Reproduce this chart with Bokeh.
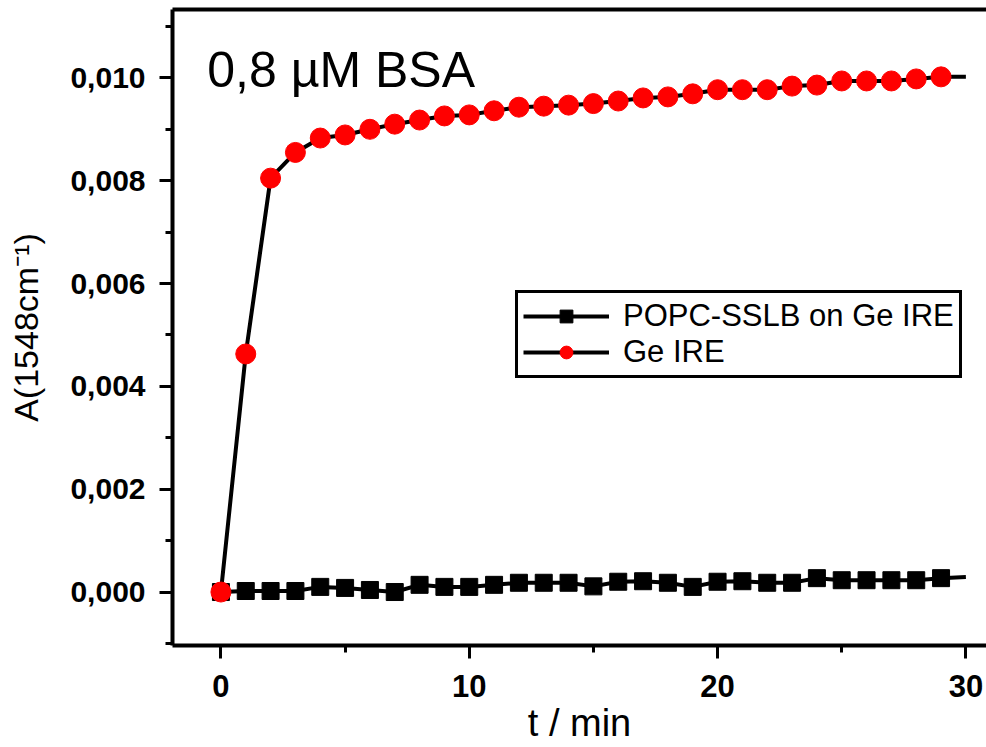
from bokeh.plotting import figure
from bokeh.models import (Range1d, SingleIntervalTicker, CustomJSTickFormatter, LinearAxis,
                          FixedTicker, Legend, LegendItem, Label)
from bokeh.embed import file_html
from bokeh.resources import INLINE

# ---- data ----
t_min = list(range(0, 31))
ge_ire = [0.0, 0.00463, 0.00805, 0.00855, 0.00883, 0.00889, 0.00900, 0.00910, 0.00918, 0.00926,
          0.00928, 0.00936, 0.00943, 0.00945, 0.00947, 0.00950, 0.00955, 0.00961, 0.00963, 0.00969,
          0.00977, 0.00977, 0.00977, 0.00984, 0.00986, 0.00994, 0.00994, 0.00994, 0.00998, 0.01002,
          0.01002]
popc_sslb = [0.0, 0.00002, 0.00002, 0.00002, 0.00010, 0.00008, 0.00004, 0.00000, 0.00014, 0.00010,
             0.00010, 0.00014, 0.00018, 0.00018, 0.00018, 0.00011, 0.00020, 0.00021, 0.00018, 0.00010,
             0.00020, 0.00021, 0.00018, 0.00018, 0.00027, 0.00023, 0.00023, 0.00023, 0.00023, 0.00027,
             0.00029]
n_markers = 30  # markers drawn for t = 0..29, line runs to t = 30
series_labels = ["POPC-SSLB on Ge IRE", "Ge IRE"]
title_text = "0,8 µM BSA"
x_label = "t / min"
y_label = "A(1548cm\u207b\u00b9)"

FONT = "Liberation Sans"

p = figure(width=986, height=747, output_backend="svg", toolbar_location=None,
           x_range=Range1d(-1.95, 30.83), y_range=Range1d(-0.00104, 0.01133),
           min_border_left=172, min_border_right=0, min_border_top=9, min_border_bottom=102)
p.outline_line_color = None
p.xgrid.visible = False
p.ygrid.visible = False
p.background_fill_color = "white"
p.border_fill_color = "white"

for ax in (p.xaxis[0], p.yaxis[0]):
    ax.axis_line_width = 4
    ax.axis_line_color = "black"
    ax.major_tick_line_width = 3
    ax.minor_tick_line_width = 3
    ax.major_tick_in = 0
    ax.minor_tick_in = 0
    ax.major_tick_out = 13
    ax.minor_tick_out = 7
    ax.major_label_text_font_style = "bold"
    ax.major_label_text_color = "black"
    ax.axis_label_text_font = FONT
    ax.axis_label_text_font_style = "normal"
    ax.axis_label_text_color = "black"

p.xaxis[0].ticker = SingleIntervalTicker(interval=10, num_minor_ticks=2)
p.xaxis[0].major_label_text_font = "Liberation Sans Narrow, Liberation Sans"
p.xaxis[0].major_label_text_font_size = "31px"
p.xaxis[0].major_label_standoff = 16
p.xaxis[0].axis_label = x_label
p.xaxis[0].axis_label_text_font_size = "38px"
p.xaxis[0].axis_label_standoff = 2

p.yaxis[0].ticker = SingleIntervalTicker(interval=0.002, num_minor_ticks=2)
p.yaxis[0].formatter = CustomJSTickFormatter(code="return tick.toFixed(3).replace('.', ',');")
p.yaxis[0].major_label_text_font = FONT
p.yaxis[0].major_label_text_font_size = "30px"
p.yaxis[0].major_label_standoff = 14
p.yaxis[0].axis_label = y_label
p.yaxis[0].axis_label_text_font_size = "34px"
p.yaxis[0].axis_label_standoff = 22

top = LinearAxis(ticker=FixedTicker(ticks=[]), major_label_text_font_size="0px",
                 axis_line_width=4, major_tick_out=0, minor_tick_out=0,
                 major_tick_in=0, minor_tick_in=0)
p.add_layout(top, "above")

# series
l1 = p.line(t_min, popc_sslb, line_color="black", line_width=4)
s1 = p.scatter(t_min[:n_markers], popc_sslb[:n_markers], marker="square", size=17,
               fill_color="black", line_color="black")
l2 = p.line(t_min, ge_ire, line_color="black", line_width=4)
s2 = p.scatter(t_min[:n_markers], ge_ire[:n_markers], marker="circle", size=20,
               fill_color="#ff0000", line_color="#ff0000")

legend = Legend(items=[LegendItem(label=series_labels[0], renderers=[l1, s1]),
                       LegendItem(label=series_labels[1], renderers=[l2, s2])],
                location=(343, 267))
legend.border_line_color = "black"
legend.border_line_alpha = 1
legend.border_line_width = 3
legend.label_text_font = FONT
legend.label_text_font_size = "31px"
legend.label_text_color = "black"
legend.glyph_width = 86
legend.glyph_height = 32
legend.label_height = 32
legend.spacing = 0
legend.padding = 5
legend.margin = 0
legend.label_standoff = 14
legend.background_fill_alpha = 1
p.add_layout(legend, "center")

p.add_layout(Label(x=-0.55, y=0.01015, text=title_text, text_font=FONT,
                   text_font_size="50px", text_color="black", text_baseline="alphabetic"))

open("out.html", "w").write(file_html(p, INLINE))
